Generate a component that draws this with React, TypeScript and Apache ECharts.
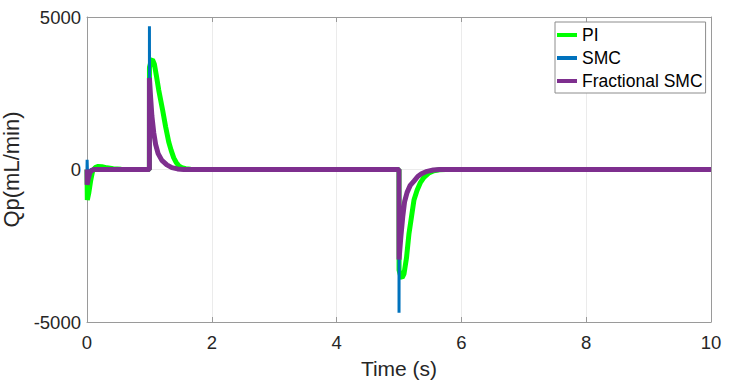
import React, { useEffect, useRef } from "react";
import * as echarts from "echarts";

const seriesNames = ["PI", "SMC", "Fractional SMC"];
const seriesColors = ["#00FF00", "#0072BD", "#7E2F8E"];

const xTicks = [0, 2, 4, 6, 8, 10];
const yTicks = [-5000, 0, 5000];

const piTime = [0, 0.005, 0.03, 0.06, 0.09, 0.13, 0.18, 0.24, 0.32, 0.42, 0.55, 0.7,
  1.0, 1.001, 1.03, 1.05, 1.08, 1.11, 1.15, 1.21, 1.26, 1.31, 1.35, 1.39, 1.43, 1.47, 1.52, 1.58, 1.66, 1.75,
  5.0, 5.001, 5.03, 5.05, 5.08, 5.12, 5.16, 5.2, 5.24, 5.29, 5.34, 5.4, 5.48, 5.56, 5.65, 5.75, 10];
const piValues = [0, -1000, -750, -350, -50, 60, 100, 90, 55, 25, 8, 0,
  0, 3350, 3580, 3600, 3450, 3100, 2600, 1970, 1400, 900, 620, 380, 230, 120, 60, 25, 8, 0,
  0, -3300, -3520, -3550, -3420, -2900, -2100, -1550, -1000, -680, -440, -260, -110, -40, -10, 0, 0];

const smcTime = [0, 0.002, 0.01, 0.03, 0.06,
  1.0, 1.0005, 1.002, 1.02, 1.04, 1.07, 1.1, 1.14, 1.2, 1.28, 1.36, 1.45, 1.55,
  5.0, 5.0005, 5.002, 5.03, 5.06, 5.09, 5.13, 5.18, 5.24, 5.3, 5.36, 5.45, 5.55, 5.65, 10];
const smcValues = [0, 320, -300, -100, 0,
  0, 4700, 2900, 2300, 1700, 1150, 780, 500, 290, 145, 58, 18, 0,
  0, -4700, -2900, -2150, -1500, -1020, -730, -510, -370, -225, -135, -58, -14, 0, 0];

const fsmcTime = [0, 0.002, 0.02, 0.05, 0.1,
  1.0, 1.0005, 1.02, 1.04, 1.07, 1.1, 1.14, 1.2, 1.28, 1.36, 1.45, 1.55,
  5.0, 5.0005, 5.03, 5.06, 5.09, 5.13, 5.18, 5.24, 5.3, 5.36, 5.45, 5.55, 5.65, 10];
const fsmcValues = [0, -500, -300, -80, 0,
  0, 3000, 2350, 1750, 1200, 820, 520, 300, 150, 60, 20, 0,
  0, -2950, -2200, -1550, -1050, -750, -520, -380, -230, -140, -60, -15, 0, 0];

const FONT = "'Liberation Sans', Arial, Helvetica, sans-serif";

function pairs(t: number[], v: number[]) {
  return t.map((x, i) => [x, v[i]]);
}

export default function App() {
  const ref = useRef<HTMLDivElement>(null);
  useEffect(() => {
    if (!ref.current) return;
    const chart = echarts.init(ref.current, undefined, { renderer: "svg" });
    const axisColor = "#9a9a9a";
    const labelColor = "#262626";
    const widths = [5, 3, 5];
    const datasets = [pairs(piTime, piValues), pairs(smcTime, smcValues), pairs(fsmcTime, fsmcValues)];
    chart.setOption({
      animation: false,
      backgroundColor: "#ffffff",
      grid: { left: 87, right: 20, top: 17, bottom: 66, containLabel: false, outerBoundsMode: "none" },
      legend: {
        orient: "vertical",
        left: 555,
        top: 22,
        itemWidth: 20,
        itemHeight: 4,
        itemGap: 5,
        icon: "rect",
        padding: [4, 3, 3, 2],
        borderColor: "#8c8c8c",
        borderWidth: 1,
        backgroundColor: "#ffffff",
        data: seriesNames.map((name, i) => ({ name, icon: "rect", itemStyle: { color: seriesColors[i] } })),
        textStyle: { fontFamily: FONT, fontSize: 17.5, color: "#000000", lineHeight: 18 },
      },
      xAxis: [
        {
          type: "value",
          min: xTicks[0],
          max: xTicks[xTicks.length - 1],
          interval: 2,
          name: "Time (s)",
          nameLocation: "middle",
          nameGap: 36,
          nameTextStyle: { fontFamily: FONT, fontSize: 21, color: labelColor },
          axisLine: { show: true, onZero: false, lineStyle: { color: axisColor, width: 1 } },
          axisTick: { show: true, inside: true, length: 5, lineStyle: { color: axisColor } },
          axisLabel: { show: true, margin: 11, fontFamily: FONT, fontSize: 18.5, color: labelColor, formatter: (v: number) => String(v) },
          splitLine: { show: true, lineStyle: { color: "#ebebeb", width: 1 } },
        },
        {
          type: "value",
          position: "top",
          min: xTicks[0],
          max: xTicks[xTicks.length - 1],
          interval: 2,
          axisLine: { show: true, onZero: false, lineStyle: { color: axisColor, width: 1 } },
          axisTick: { show: true, inside: true, length: 5, lineStyle: { color: axisColor } },
          axisLabel: { show: false },
          splitLine: { show: false },
        },
      ],
      yAxis: [
        {
          type: "value",
          min: yTicks[0],
          max: yTicks[yTicks.length - 1],
          interval: 5000,
          name: "Qp(mL/min)",
          nameLocation: "middle",
          nameGap: 53,
          nameTextStyle: { fontFamily: FONT, fontSize: 22, color: labelColor },
          axisLine: { show: true, onZero: false, lineStyle: { color: axisColor, width: 1 } },
          axisTick: { show: true, inside: true, length: 5, lineStyle: { color: axisColor } },
          axisLabel: { show: true, margin: 6, fontFamily: FONT, fontSize: 18.5, color: labelColor, formatter: (v: number) => String(v) },
          splitLine: { show: true, lineStyle: { color: "#ebebeb", width: 1 } },
        },
        {
          type: "value",
          position: "right",
          min: yTicks[0],
          max: yTicks[yTicks.length - 1],
          interval: 5000,
          axisLine: { show: true, onZero: false, lineStyle: { color: axisColor, width: 1 } },
          axisTick: { show: true, inside: true, length: 5, lineStyle: { color: axisColor } },
          axisLabel: { show: false },
          splitLine: { show: false },
        },
      ],
      series: seriesNames.map((name, i) => ({
        name,
        type: "line",
        xAxisIndex: 0,
        yAxisIndex: 0,
        data: datasets[i],
        symbol: "none",
        showSymbol: false,
        smooth: false,
        color: seriesColors[i],
        lineStyle: { color: seriesColors[i], width: widths[i] },
        emphasis: { disabled: true },
      })),
    });
    return () => chart.dispose();
  }, []);
  return <div ref={ref} style={{ width: 731, height: 388, position: "absolute", left: 0, top: 0 }} />;
}
